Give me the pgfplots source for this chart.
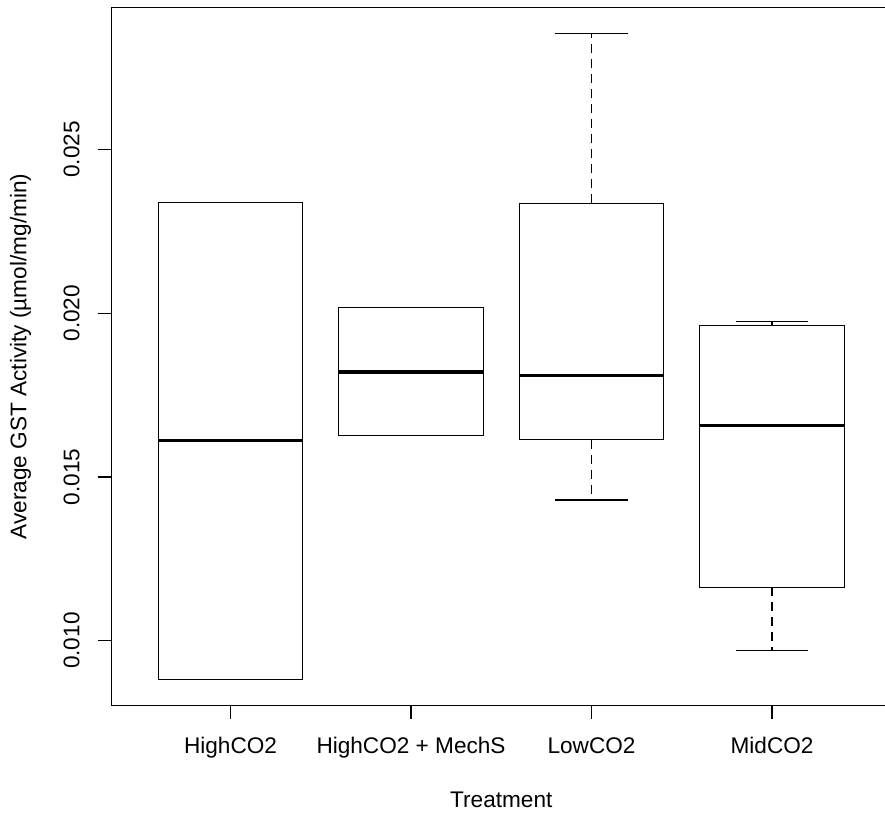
\documentclass[border=0pt]{standalone}
\usepackage{fontspec}
\setmainfont{Liberation Sans}
\usepackage{pgfplots}
\pgfplotsset{compat=1.18}
\usepgfplotslibrary{statistics}
% values are given in units of 0.001 umol/mg/min; tick labels show the true values
\begin{document}
\begin{tikzpicture}
\begin{axis}[
  name=ax,
  scale only axis,
  width=389.9pt, height=349pt,
  xmin=0.34, xmax=4.66,
  ymin=8.02, ymax=29.34,
  font=\fontsize{11.3}{13.5}\selectfont,
  axis line style={line width=0.75pt, black},
  every tick/.style={line width=0.75pt, black},
  tick align=outside,
  major tick length=6.8pt,
  xtick pos=bottom, ytick pos=left,
  xtick={1,2,3,4},
  xticklabels={HighCO2, HighCO2 + MechS, LowCO2, MidCO2},
  ytick={10,15,20,25},
  yticklabels={0.010,0.015,0.020,0.025},
  yticklabel style={rotate=90, anchor=base, inner sep=0pt},
  xticklabel style={anchor=north, inner sep=0pt},
  xticklabel shift=9.0pt,
  yticklabel shift=9.2pt,
  xlabel={Treatment},
  ylabel={Average GST Activity (µmol/mg/min)},
  xlabel style={at={([yshift=-51.25pt]axis description cs:0.5,0)}, anchor=base, inner sep=0pt},
  ylabel style={at={([xshift=-42.5pt]axis description cs:0,0.5)}, anchor=base, inner sep=0pt},
  boxplot/draw direction=y,
  boxplot/box extend=0.8,
  boxplot/whisker extend=0.4,
  boxplot/every median/.style={line width=1.7pt},
  boxplot/draw/lower whisker/.code={%
    \draw[dash pattern=on 4.5pt off 3pt] (boxplot cs:\pgfplotsboxplotvalue{lower quartile}) -- (boxplot cs:\pgfplotsboxplotvalue{lower whisker});
    \draw[solid] (boxplot whisker cs:\pgfplotsboxplotvalue{lower whisker},0) -- (boxplot whisker cs:\pgfplotsboxplotvalue{lower whisker},1);
  },
  boxplot/draw/upper whisker/.code={%
    \draw[dash pattern=on 4.5pt off 3pt] (boxplot cs:\pgfplotsboxplotvalue{upper quartile}) -- (boxplot cs:\pgfplotsboxplotvalue{upper whisker});
    \draw[solid] (boxplot whisker cs:\pgfplotsboxplotvalue{upper whisker},0) -- (boxplot whisker cs:\pgfplotsboxplotvalue{upper whisker},1);
  },
]
\addplot[black, line width=0.6pt, boxplot prepared={draw position=1,
  lower whisker=8.810, lower quartile=8.810, median=16.105,
  upper quartile=23.379, upper whisker=23.379}] coordinates {};
\addplot[black, line width=0.6pt, boxplot prepared={draw position=2,
  lower whisker=16.258, lower quartile=16.258, median=18.202,
  upper quartile=20.174, upper whisker=20.174}] coordinates {};
\addplot[black, line width=0.6pt, boxplot prepared={draw position=3,
  lower whisker=14.295, lower quartile=16.136, median=18.098,
  upper quartile=23.360, upper whisker=28.550}] coordinates {};
\addplot[black, line width=0.6pt, boxplot prepared={draw position=4,
  lower whisker=9.695, lower quartile=11.627, median=16.563,
  upper quartile=19.637, upper whisker=19.737}] coordinates {};
\end{axis}
\pgfresetboundingbox
\path[use as bounding box] ([xshift=-55.7pt,yshift=-54.75pt]ax.south west) rectangle ([xshift=-3.1pt,yshift=3.75pt]ax.north east);
\end{tikzpicture}
\end{document}
